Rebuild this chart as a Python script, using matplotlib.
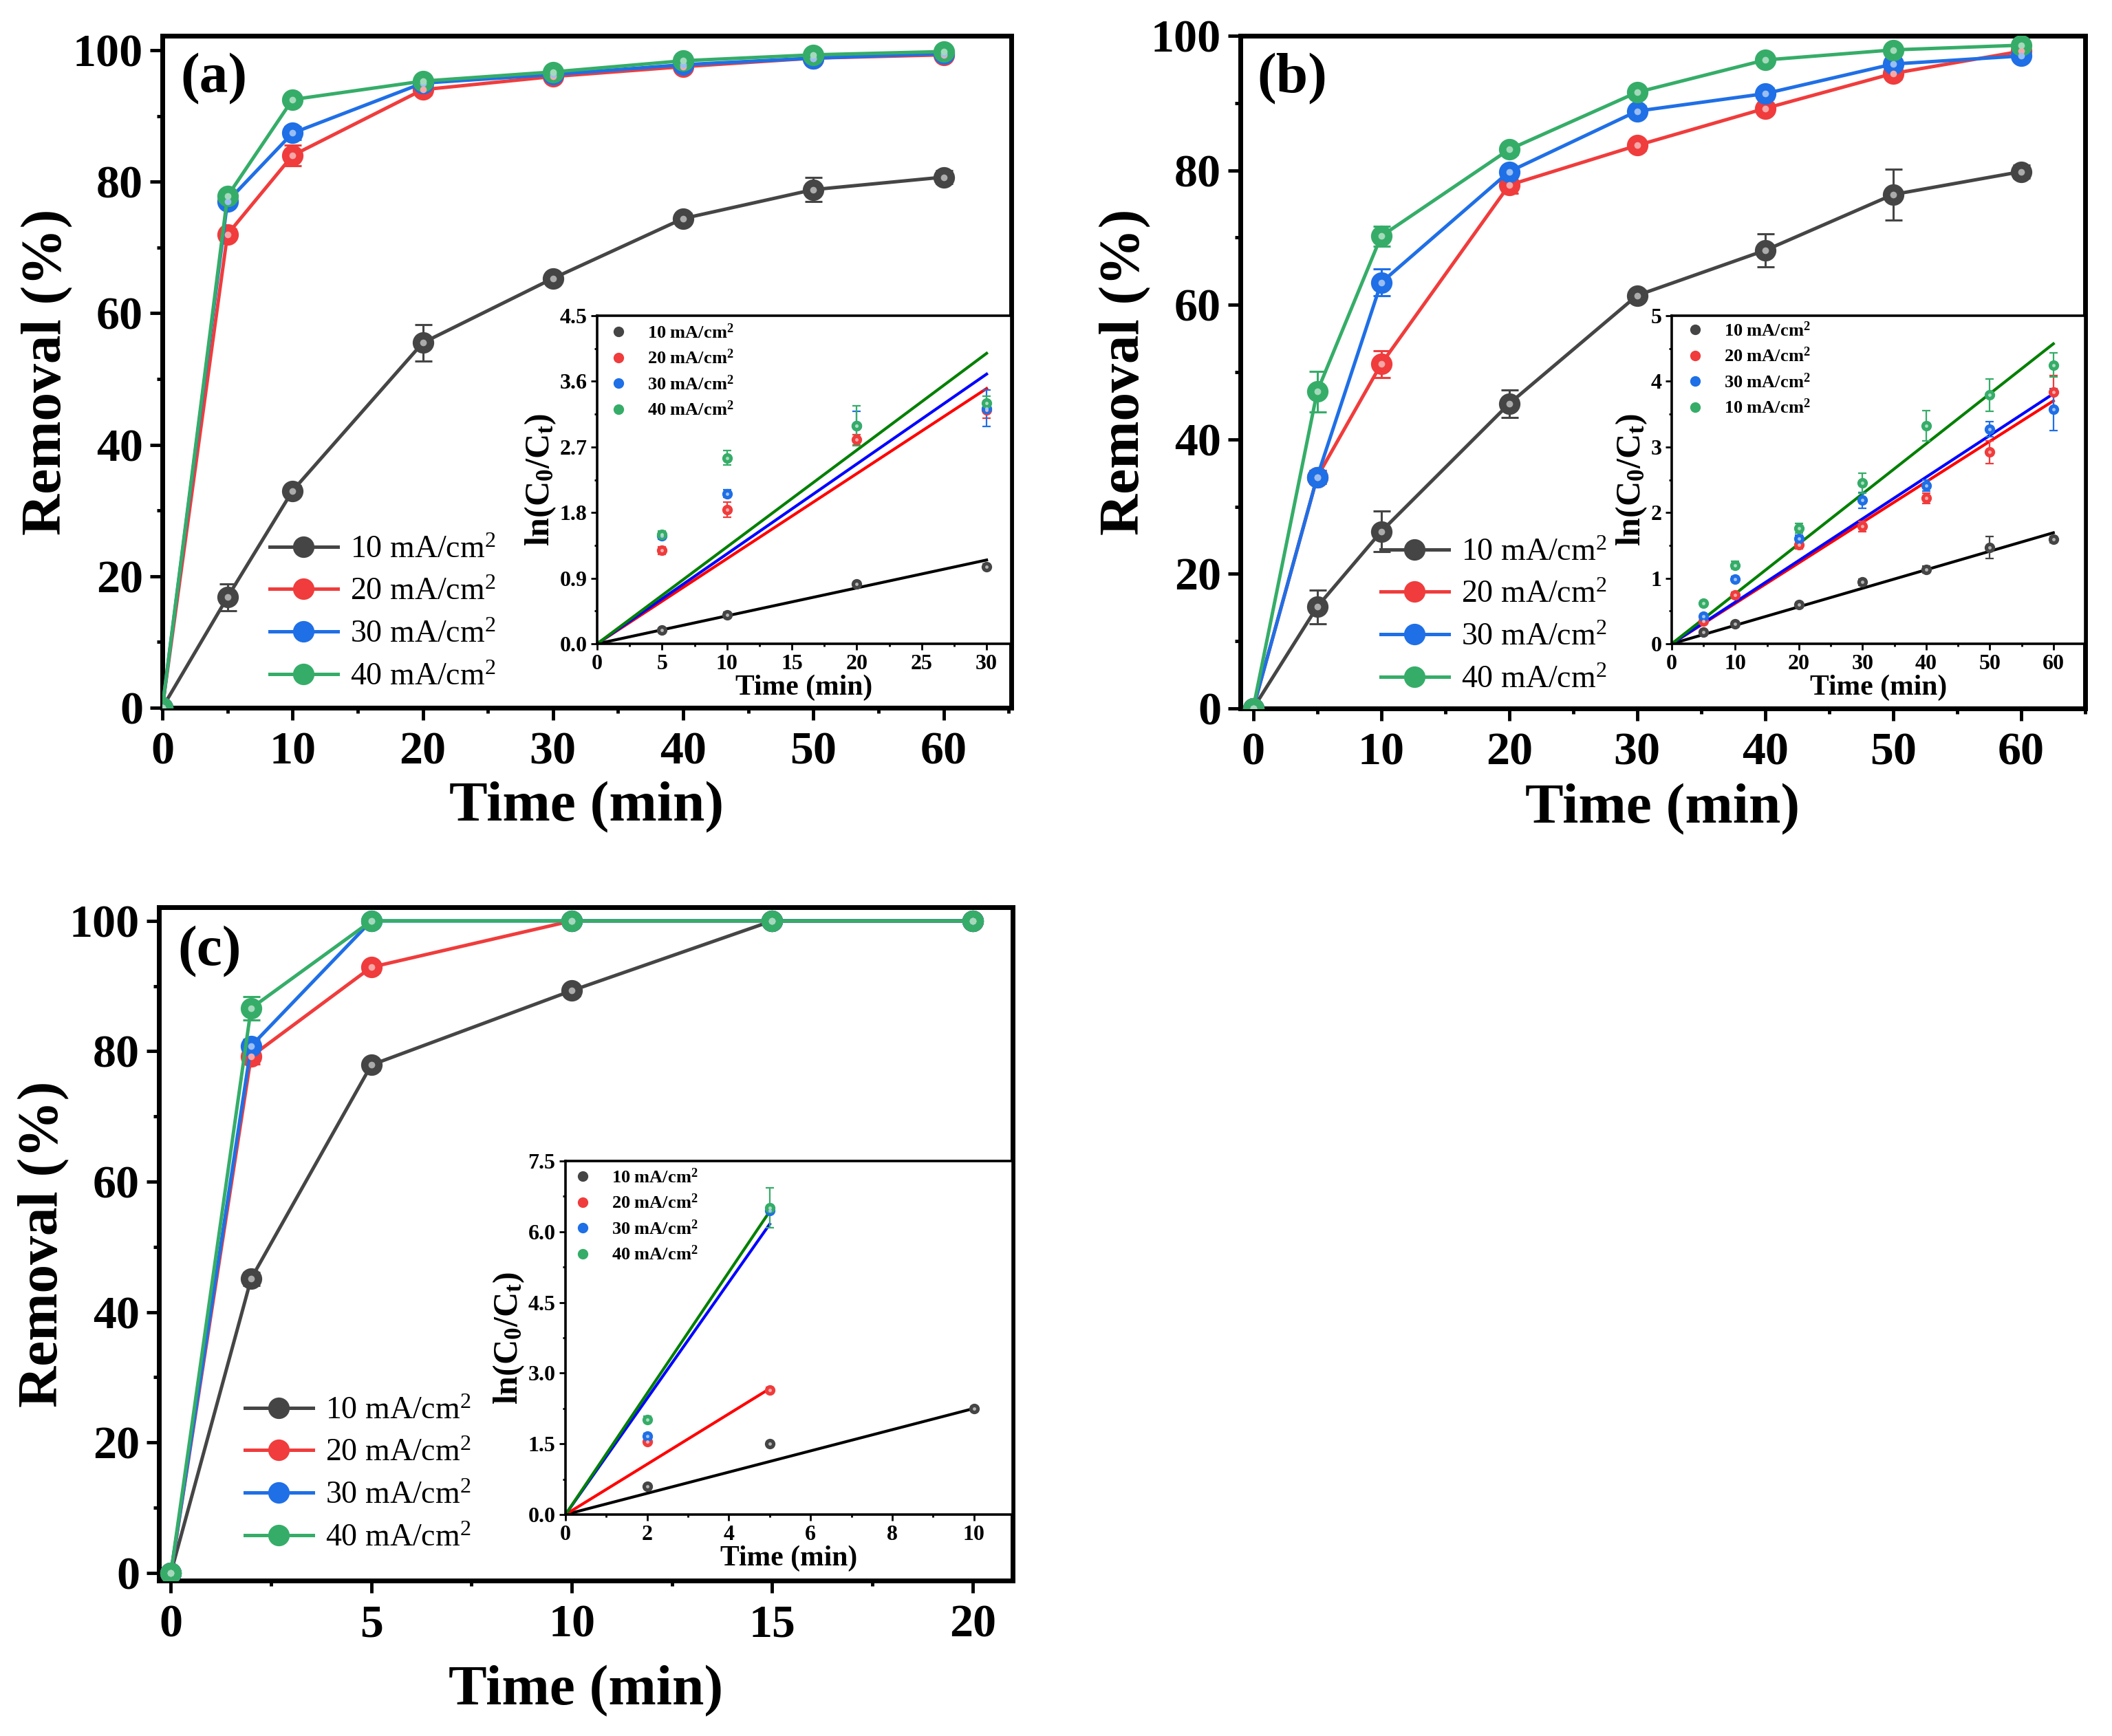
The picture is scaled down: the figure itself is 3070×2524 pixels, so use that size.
import numpy as np
import matplotlib
matplotlib.use('Agg')
import matplotlib.pyplot as plt
from matplotlib.ticker import MultipleLocator, FormatStrFormatter
from matplotlib.colors import to_rgb

plt.rcParams['font.family'] = ['Liberation Serif', 'DejaVu Serif']
plt.rcParams['mathtext.fontset'] = 'custom'
plt.rcParams['mathtext.rm'] = 'Liberation Serif'
plt.rcParams['mathtext.default'] = 'regular'

# ---------------- data ----------------
labels = ['10 mA/cm$^2$', '20 mA/cm$^2$', '30 mA/cm$^2$', '40 mA/cm$^2$']
labels_inset_b = ['10 mA/cm$^2$', '20 mA/cm$^2$', '30 mA/cm$^2$', '10 mA/cm$^2$']

# panel (a)
time_a = [0, 5, 10, 20, 30, 40, 50, 60]
rem_a_10 = [0, 16.8, 33.0, 55.5, 65.3, 74.4, 78.8, 80.7]
rem_a_20 = [0, 72.0, 84.0, 94.0, 96.0, 97.5, 98.8, 99.3]
rem_a_30 = [0, 77.0, 87.4, 95.0, 96.3, 97.8, 98.8, 99.5]
rem_a_40 = [0, 77.8, 92.5, 95.3, 96.7, 98.4, 99.3, 99.8]
err_a_10 = [0, 2.0, 0.8, 2.8, 0.6, 0.8, 1.8, 1.0]
err_a_20 = [0, 0.8, 1.6, 0.8, 0.5, 0.5, 0.4, 0.4]
err_a_30 = [0, 0.5, 1.0, 0.5, 0.3, 0.3, 0.3, 0.3]
err_a_40 = [0, 0.5, 0.5, 0.3, 0.3, 0.3, 0.3, 0.3]

# panel (b)
time_b = [0, 5, 10, 20, 30, 40, 50, 60]
rem_b_10 = [0, 15.1, 26.3, 45.3, 61.4, 68.1, 76.4, 79.8]
rem_b_20 = [0, 34.4, 51.2, 77.8, 83.7, 89.2, 94.4, 97.7]
rem_b_30 = [0, 34.4, 63.3, 79.8, 88.8, 91.4, 95.8, 97.0]
rem_b_40 = [0, 47.1, 70.2, 83.1, 91.6, 96.4, 97.9, 98.6]
err_b_10 = [0, 2.5, 3.0, 2.0, 0.8, 2.5, 3.8, 1.0]
err_b_20 = [0, 1.0, 2.0, 1.2, 0.8, 0.8, 0.8, 0.6]
err_b_30 = [0, 1.0, 2.0, 0.8, 0.8, 0.8, 0.6, 0.6]
err_b_40 = [0, 3.0, 1.5, 0.8, 0.6, 0.6, 0.4, 0.4]

# panel (c)
time_c = [0, 2, 5, 10, 15, 20]
rem_c_10 = [0, 45.1, 77.9, 89.3, 100, 100]
rem_c_20 = [0, 79.2, 92.9, 100, 100, 100]
rem_c_30 = [0, 80.8, 100, 100, 100, 100]
rem_c_40 = [0, 86.6, 100, 100, 100, 100]
err_c_10 = [0, 1.0, 0.8, 0.8, 0, 0]
err_c_20 = [0, 1.2, 0.8, 0, 0, 0]
err_c_30 = [0, 1.0, 0, 0, 0, 0]
err_c_40 = [0, 1.8, 0, 0, 0, 0]

# inset (a): ln(C0/Ct)
t_ia = [5, 10, 20, 30]
ln_a_10 = [0.19, 0.40, 0.82, 1.06]
ln_a_20 = [1.28, 1.84, 2.80, 3.21]
ln_a_30 = [1.48, 2.06, 2.99, 3.23]
ln_a_40 = [1.50, 2.55, 2.99, 3.30]
lerr_a_10 = [0.02, 0.03, 0.03, 0.03]
lerr_a_20 = [0.05, 0.10, 0.07, 0.12]
lerr_a_30 = [0.05, 0.05, 0.20, 0.25]
lerr_a_40 = [0.05, 0.10, 0.27, 0.10]
k_a = [0.0383, 0.1167, 0.1233, 0.1328]     # fitted rate constants (1/min)
tfit_a = [30, 30, 30, 30]

# inset (b)
t_ib = [5, 10, 20, 30, 40, 50, 60]
ln_b_10 = [0.18, 0.30, 0.60, 0.94, 1.13, 1.47, 1.59]
ln_b_20 = [0.35, 0.74, 1.51, 1.79, 2.22, 2.92, 3.84]
ln_b_30 = [0.42, 0.99, 1.60, 2.19, 2.41, 3.27, 3.57]
ln_b_40 = [0.62, 1.20, 1.76, 2.45, 3.32, 3.79, 4.25]
lerr_b_10 = [0.02, 0.03, 0.03, 0.05, 0.05, 0.17, 0.05]
lerr_b_20 = [0.03, 0.05, 0.06, 0.08, 0.08, 0.17, 0.25]
lerr_b_30 = [0.03, 0.04, 0.06, 0.12, 0.08, 0.12, 0.32]
lerr_b_40 = [0.03, 0.06, 0.07, 0.15, 0.23, 0.25, 0.18]
k_b = [0.0282, 0.0617, 0.0635, 0.0762]
tfit_b = [60, 60, 60, 60]

# inset (c)
t_ic_10 = [2, 5, 10]
t_ic = [2, 5]
ln_c_10 = [0.60, 1.51, 2.24]
ln_c_20 = [1.55, 2.64]
ln_c_30 = [1.66, 6.45]
ln_c_40 = [2.02, 6.51]
lerr_c_10 = [0.03, 0.04, 0.05]
lerr_c_20 = [0.05, 0.06]
lerr_c_30 = [0.06, 0.05]
lerr_c_40 = [0.06, 0.42]
k_c = [0.225, 0.534, 1.232, 1.286]
tfit_c = [10, 5, 5, 5]

# ---------------- style ----------------
main_colors = ['#454545', '#f03c3c', '#1f6fe6', '#35ad68']
fit_colors = ['#000000', '#ff0000', '#0000ff', '#008000']

W, H = 3070, 2524
fig = plt.figure(figsize=(W / 100, H / 100), dpi=100)


def rect(l, t, r, b):
    return [l / W, 1 - b / H, (r - l) / W, (b - t) / H]


def lighter(c, f):
    r, g, b = to_rgb(c)
    return (r + (1 - r) * f, g + (1 - g) * f, b + (1 - b) * f)


def style_axes(ax, lw, maj_len, min_len, tick_w, fs, pad):
    for s in ax.spines.values():
        s.set_linewidth(lw)
    ax.tick_params(which='major', direction='out', length=maj_len, width=tick_w,
                   labelsize=fs, top=False, right=False, pad=pad)
    ax.tick_params(which='minor', direction='out', length=min_len, width=tick_w,
                   top=False, right=False)
    for lab in ax.get_xticklabels() + ax.get_yticklabels():
        lab.set_fontweight('bold')


def main_panel(ax, t, ys, errs, xlim, ylim, xmaj, xmin, letter, letter_xy, leg_xy, xpad):
    for y, e, c, lab in zip(ys, errs, main_colors, labels):
        ax.errorbar(t, y, yerr=e, fmt='none', ecolor=c, elinewidth=2.2,
                    capsize=9, capthick=2.2, zorder=2)
        ax.plot(t, y, '-o', color=c, lw=3.6, ms=21, mfc=c,
                mec=c, mew=1.5, label=lab, zorder=3)
        ax.plot(t, y, 'o', ls='none', ms=7, color=lighter(c, 0.55),
                mec='none', zorder=4)
    ax.set_xlim(*xlim)
    ax.set_ylim(*ylim)
    ax.xaxis.set_major_locator(MultipleLocator(xmaj))
    ax.xaxis.set_minor_locator(MultipleLocator(xmin))
    ax.yaxis.set_major_locator(MultipleLocator(20))
    ax.yaxis.set_minor_locator(MultipleLocator(10))
    style_axes(ax, 5, 13, 5.5, 3.5, 49, 7)
    ax.tick_params(axis='x', which='major', pad=12)
    ax.set_xlabel('Time (min)', fontsize=60, fontweight='bold', labelpad=xpad)
    ax.set_ylabel('Removal (%)', fontsize=60, fontweight='bold', labelpad=0)
    fig.text(letter_xy[0] / W, 1 - letter_xy[1] / H, letter, fontsize=60,
             fontweight='bold', va='center', ha='left')
    ax.legend(loc='center left', bbox_to_anchor=(leg_xy[0] / W, 1 - leg_xy[1] / H),
              bbox_transform=fig.transFigure, frameon=False, fontsize=33,
              handlelength=2.15, handletextpad=0.4, labelspacing=0.42,
              borderpad=0, borderaxespad=0)


def inset_panel(ax, ts, ys, errs, ks, tfits, xlim, ylim, xmaj, xmin, ymaj, ymin,
                yfmt, labs, leg_xy):
    for t, y, e, c, lab in zip(ts, ys, errs, main_colors, labs):
        ax.errorbar(t, y, yerr=e, fmt='none', ecolor=c, elinewidth=1.6,
                    capsize=4, capthick=1.6, zorder=3)
        ax.plot(t, y, 'o', ls='none', ms=10, color=c, mec=c, label=lab, zorder=4)
        ax.plot(t, y, 'o', ls='none', ms=3.5, color=lighter(c, 0.6), mec='none', zorder=5)
    for k, tf, c in zip(ks, tfits, fit_colors):
        ax.plot([0, tf], [0, k * tf], '-', color=c, lw=3.0, zorder=2)
    ax.set_xlim(*xlim)
    ax.set_ylim(*ylim)
    ax.xaxis.set_major_locator(MultipleLocator(xmaj))
    ax.xaxis.set_minor_locator(MultipleLocator(xmin))
    ax.yaxis.set_major_locator(MultipleLocator(ymaj))
    ax.yaxis.set_minor_locator(MultipleLocator(ymin))
    if yfmt:
        ax.yaxis.set_major_formatter(FormatStrFormatter(yfmt))
    style_axes(ax, 2.6, 6.5, 3, 2.0, 23, 4)
    ax.set_xlabel('Time (min)', fontsize=30, fontweight='bold', labelpad=1)
    ax.set_ylabel('ln(C$_0$/C$_t$)', fontsize=36, fontweight='bold', labelpad=2)
    leg = ax.legend(loc='upper left', bbox_to_anchor=(leg_xy[0] / W, 1 - leg_xy[1] / H),
                    bbox_transform=fig.transFigure, frameon=False, fontsize=19,
                    handlelength=1.0, handletextpad=1.1, labelspacing=0.42,
                    borderpad=0, borderaxespad=0)
    for txt in leg.get_texts():
        txt.set_fontweight('bold')


# ---------------- panel (a) ----------------
axA = fig.add_axes(rect(236, 52, 1470, 1029))
main_panel(axA, time_a, [rem_a_10, rem_a_20, rem_a_30, rem_a_40],
           [err_a_10, err_a_20, err_a_30, err_a_40], (0, 65.2), (0, 102.2), 10, 5,
           '(a)', (262, 115), (392, 892), 8)
iA = fig.add_axes(rect(868, 459, 1470, 936))
inset_panel(iA, [t_ia] * 4, [ln_a_10, ln_a_20, ln_a_30, ln_a_40],
            [lerr_a_10, lerr_a_20, lerr_a_30, lerr_a_40], k_a, tfit_a,
            (0, 31.9), (0, 4.5), 5, 2.5, 0.9, 0.45, '%.1f', labels, (886, 470))

# ---------------- panel (b) ----------------
axB = fig.add_axes(rect(1803, 52, 3031, 1030))
main_panel(axB, time_b, [rem_b_10, rem_b_20, rem_b_30, rem_b_40],
           [err_b_10, err_b_20, err_b_30, err_b_40], (-1, 65), (0, 100), 10, 5,
           '(b)', (1827, 115), (2007, 896), 10)
iB = fig.add_axes(rect(2430, 459, 3031, 936))
inset_panel(iB, [t_ib] * 4, [ln_b_10, ln_b_20, ln_b_30, ln_b_40],
            [lerr_b_10, lerr_b_20, lerr_b_30, lerr_b_40], k_b, tfit_b,
            (0, 65), (0, 5), 10, 5, 1, 0.5, None, labels_inset_b, (2451, 467))

# ---------------- panel (c) ----------------
axC = fig.add_axes(rect(231, 1319, 1472, 2298))
main_panel(axC, time_c, [rem_c_10, rem_c_20, rem_c_30, rem_c_40],
           [err_c_10, err_c_20, err_c_30, err_c_40], (-0.3, 21), (-1.2, 102.1), 5, 2.5,
           '(c)', (258, 1384), (356, 2144), 20)
iC = fig.add_axes(rect(822, 1688, 1472, 2202))
inset_panel(iC, [t_ic_10, t_ic, t_ic, t_ic], [ln_c_10, ln_c_20, ln_c_30, ln_c_40],
            [lerr_c_10, lerr_c_20, lerr_c_30, lerr_c_40], k_c, tfit_c,
            (0, 10.95), (0, 7.5), 2, 1, 1.5, 0.75, '%.1f', labels, (834, 1698))

fig.savefig('out.png', dpi=100, facecolor='white')
